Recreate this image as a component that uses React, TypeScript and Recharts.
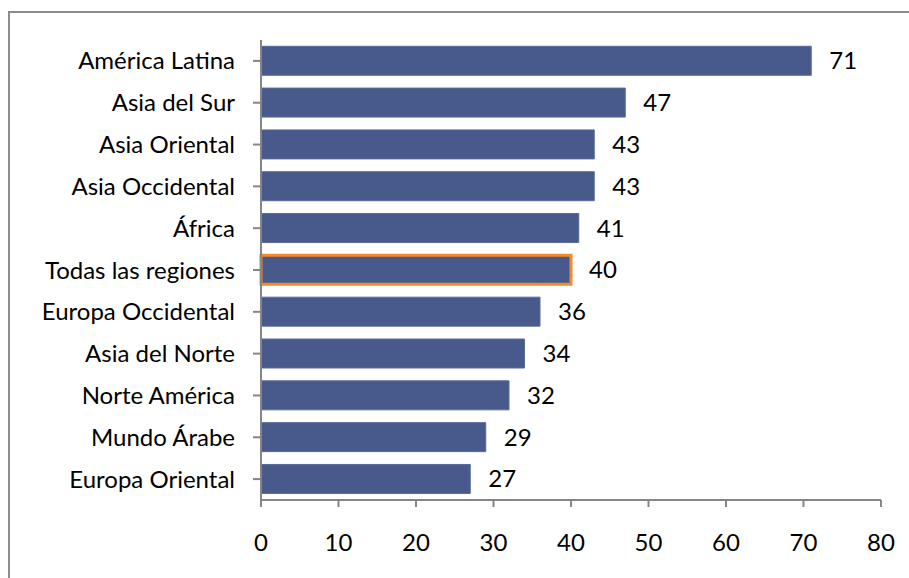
import { BarChart, Bar, XAxis, YAxis, Cell, LabelList } from "recharts"

const regions = [
  "América Latina",
  "Asia del Sur",
  "Asia Oriental",
  "Asia Occidental",
  "África",
  "Todas las regiones",
  "Europa Occidental",
  "Asia del Norte",
  "Norte América",
  "Mundo Árabe",
  "Europa Oriental",
]
const values = [71, 47, 43, 43, 41, 40, 36, 34, 32, 29, 27]
const xTicks = [0, 10, 20, 30, 40, 50, 60, 70, 80]
const highlight = "Todas las regiones"

const BAR = "#48598c"
const FONT = "Lato, 'Open Sans', sans-serif"
const FS = 24

const data = regions.map((name, i) => ({ name, value: values[i] }))

export default function App() {
  return (
    <div
      style={{
        position: "fixed",
        left: 0,
        top: 0,
        width: 909,
        height: 578,
        overflow: "hidden",
        background: "#fff",
        fontFamily: FONT,
      }}
    >
      <div
        style={{
          position: "absolute",
          left: 8,
          top: 11,
          width: 899,
          height: 600,
          border: "2px solid #8c8c8c",
          borderRight: "none",
          borderBottom: "none",
        }}
      />
      <div style={{ position: "absolute", left: 0, top: 0 }}>
        <BarChart
          layout="vertical"
          width={909}
          height={578}
          data={data}
          margin={{ top: 40, right: 28, bottom: 0, left: 0 }}
          barCategoryGap="15%"
        >
          <XAxis
            type="number"
            domain={[0, 80]}
            ticks={xTicks}
            height={78}
            axisLine={{ stroke: "#868686", strokeWidth: 2 }}
            tickLine={{ stroke: "#868686", strokeWidth: 2 }}
            tickSize={7}
            tickMargin={27}
            tick={{ fill: "#000", fontSize: FS, fontFamily: FONT }}
          />
          <YAxis
            type="category"
            dataKey="name"
            width={261}
            axisLine={{ stroke: "#868686", strokeWidth: 2 }}
            tickLine={{ stroke: "#868686", strokeWidth: 2 }}
            tickSize={8}
            tickMargin={18}
            interval={0}
            tick={{ fill: "#000", fontSize: FS, fontFamily: FONT }}
          />
          <Bar dataKey="value" isAnimationActive={false} fill={BAR}>
            {data.map((d) => (
              <Cell
                key={d.name}
                fill={BAR}
                stroke={d.name === highlight ? "#f58a2c" : "#5a6a9a"}
                strokeWidth={d.name === highlight ? 3 : 1}
              />
            ))}
            <LabelList
              dataKey="value"
              position="right"
              offset={18}
              style={{ fill: "#000", fontSize: FS, fontFamily: FONT }}
            />
          </Bar>
        </BarChart>
      </div>
    </div>
  )
}
